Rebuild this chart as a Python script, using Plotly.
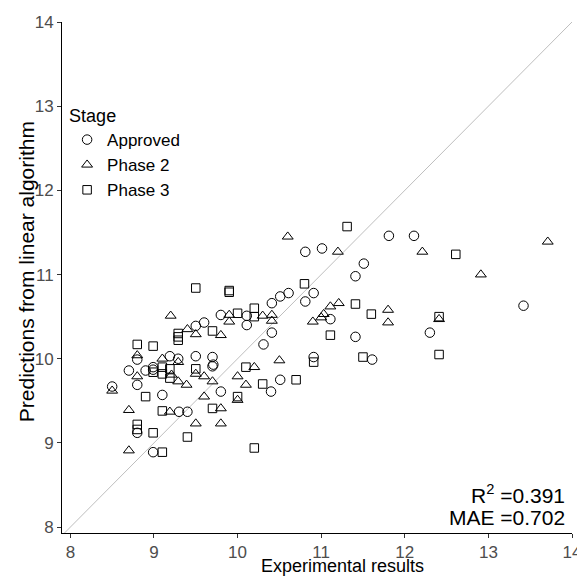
import plotly.graph_objects as go

# ---- data ----
approved_x = [8.50, 8.70, 8.80, 8.80, 8.80, 8.90, 8.99, 8.99, 8.99, 9.10, 9.19, 9.29, 9.30, 9.40,
              9.50, 9.50, 9.60, 9.70, 9.70, 9.71, 9.80, 9.80, 10.11, 10.11, 10.31, 10.41, 10.41,
              10.51, 10.61, 10.40, 10.51, 10.81, 11.01, 10.81, 10.91, 11.51, 11.41, 11.81, 12.11,
              11.11, 11.41, 12.30, 10.91, 11.61, 13.42]
approved_y = [9.67, 9.86, 9.99, 9.69, 9.12, 9.86, 9.90, 9.87, 8.89, 9.57, 10.03, 10.00, 9.37, 9.37,
              10.39, 10.03, 10.43, 10.02, 9.91, 9.93, 10.52, 9.61, 10.51, 10.40, 10.17, 10.31, 10.66,
              10.74, 10.78, 9.61, 9.75, 11.27, 11.31, 10.68, 10.78, 11.13, 10.98, 11.46, 11.46,
              10.47, 10.26, 10.31, 10.02, 9.99, 10.63]

phase2_x = [8.50, 8.70, 8.70, 8.80, 8.80, 9.10, 9.20, 9.21, 9.29, 9.29, 9.39, 9.19, 9.40, 9.50,
            9.50, 9.50, 9.60, 9.60, 9.70, 9.80, 9.80, 9.80, 9.90, 9.90, 10.00, 10.00, 10.10, 10.20,
            10.30, 10.41, 10.41, 10.50, 10.60, 10.90, 11.00, 11.03, 11.11, 11.21, 11.20, 11.80,
            11.80, 12.21, 12.41, 12.91, 13.71]
phase2_y = [9.62, 9.39, 8.91, 10.04, 9.79, 10.00, 10.51, 9.81, 9.96, 9.73, 9.69, 9.37, 10.35, 10.29,
            9.82, 9.23, 9.79, 9.55, 9.73, 10.28, 9.41, 9.23, 10.52, 10.44, 9.79, 9.51, 9.69, 9.90,
            10.51, 10.52, 10.45, 9.98, 11.45, 10.44, 10.49, 10.53, 10.62, 10.66, 11.27, 10.58,
            10.43, 11.27, 10.47, 11.00, 11.39]

phase3_x = [8.80, 8.99, 8.99, 9.10, 9.10, 9.19, 9.19, 9.29, 9.29, 9.29, 8.80, 8.80, 8.90, 8.99,
            9.10, 9.10, 9.40, 9.50, 9.50, 9.70, 9.70, 9.90, 9.90, 10.00, 10.00, 10.10, 10.20, 10.20,
            10.20, 10.30, 10.70, 10.80, 10.91, 11.11, 11.31, 11.41, 11.50, 11.60, 12.41, 12.41, 12.61]
phase3_y = [10.17, 10.15, 9.84, 9.90, 9.82, 9.88, 9.77, 10.26, 10.22, 10.30, 9.22, 9.16, 9.55, 9.12,
            9.38, 8.89, 9.07, 10.84, 9.88, 10.33, 9.41, 10.81, 10.79, 10.54, 9.55, 9.90, 10.60, 10.50,
            8.94, 9.70, 9.75, 10.89, 9.96, 10.28, 11.57, 10.65, 10.02, 10.53, 10.50, 10.05, 11.24]

x_ticks = [8, 9, 10, 11, 12, 13, 14]
y_ticks = [8, 9, 10, 11, 12, 13, 14]
x_range = [7.9, 14.0]
y_range = [7.93, 14.0]
r2_value = 0.391
mae_value = 0.702

FONT = "Liberation Sans, Arial, Helvetica, sans-serif"

fig = go.Figure()

series = [
    ("Approved", approved_x, approved_y, "circle-open", 9.5),
    ("Phase 2", phase2_x, phase2_y, "triangle-up-open", 9.5),
    ("Phase 3", phase3_x, phase3_y, "square-open", 8.5),
]
for name, xs, ys, sym, sz in series:
    fig.add_trace(go.Scatter(
        x=xs, y=ys, mode="markers", name=name,
        marker=dict(symbol=sym, size=sz, color="black", line=dict(color="black", width=1)),
    ))

# identity line y = x across the panel
lo = min(x_range[0], y_range[0]) - 1
hi = max(x_range[1], y_range[1]) + 1
fig.add_shape(type="line", xref="x", yref="y", x0=lo, y0=lo, x1=hi, y1=hi,
              line=dict(color="#BEBEBE", width=1), layer="below")

axis_common = dict(
    showgrid=False, zeroline=False, showline=True, linecolor="black", linewidth=1,
    ticks="outside", ticklen=4, tickcolor="#333333", tickwidth=1, automargin=False,
    tickfont=dict(family=FONT, size=17, color="#4D4D4D"),
)
fig.update_xaxes(range=x_range, tickvals=x_ticks, ticktext=[str(t) for t in x_ticks], **axis_common)
fig.update_yaxes(range=y_range, tickvals=y_ticks, ticktext=[str(t) for t in y_ticks], **axis_common)

fig.add_annotation(text="Experimental results", xref="paper", yref="paper",
                   x=0.55, y=-0.089, xanchor="center", yanchor="bottom", showarrow=False,
                   font=dict(family=FONT, size=18, color="black"))
fig.add_annotation(text="Predictions from linear algorithm", xref="paper", yref="paper",
                   x=-0.069, y=0.512, xanchor="center", yanchor="middle", showarrow=False,
                   textangle=-90, font=dict(family=FONT, size=21, color="black"))
fig.add_annotation(text="R<sup>2</sup> =%.3f" % r2_value, xref="paper", yref="paper",
                   x=0.99, y=0.076, xanchor="right", yanchor="middle", showarrow=False,
                   font=dict(family=FONT, size=21, color="black"))
fig.add_annotation(text="MAE =%.3f" % mae_value, xref="paper", yref="paper",
                   x=0.99, y=0.031, xanchor="right", yanchor="middle", showarrow=False,
                   font=dict(family=FONT, size=21, color="black"))

# the page body adds an 8px margin, so the figure is sized to fit the window from there
fig.update_layout(
    width=577, height=569,
    margin=dict(l=54, r=13, t=14, b=44, autoexpand=False),
    paper_bgcolor="white", plot_bgcolor="white",
    showlegend=True,
    legend=dict(
        title=dict(text="Stage", font=dict(family=FONT, size=18, color="black")),
        font=dict(family=FONT, size=17, color="black"),
        x=0.01, y=0.85, xanchor="left", yanchor="top",
        bgcolor="rgba(0,0,0,0)", itemsizing="trace",
    ),
)

fig.write_html("out.html")
